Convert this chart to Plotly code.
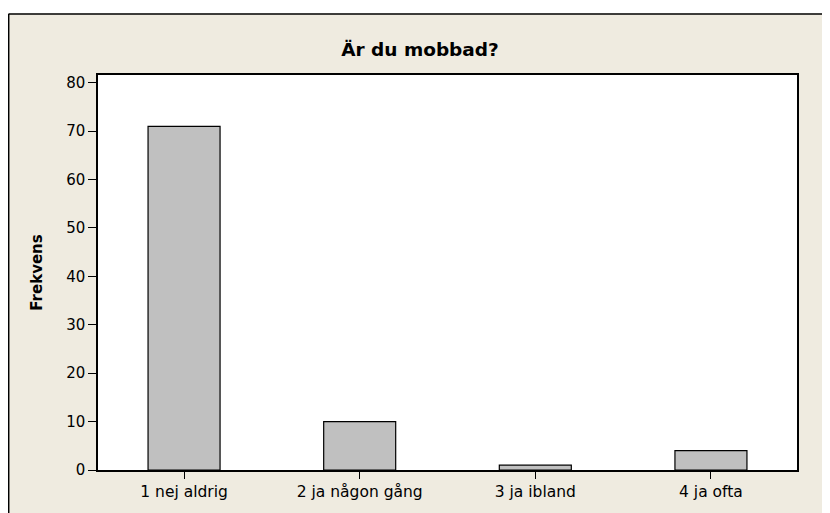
import plotly.graph_objects as go

categories = ['1 nej aldrig', '2 ja någon gång', '3 ja ibland', '4 ja ofta']
frekvens = [71, 10, 1, 4]

# the page body adds an 8px margin, so work in page pixels minus 8
OFF = 8
W, H = 830 - OFF, 513 - OFF
L, R, T, B = 98 - OFF, 830 - 797, 75 - OFF, 513 - 473
pw, ph = W - L - R, H - T - B

def px(x):
    return (x - OFF - L) / pw

def py(y):
    return (H - B - (y - OFF)) / ph

fig = go.Figure()
fig.add_trace(go.Bar(x=categories, y=frekvens, width=0.41,
                     marker=dict(color='#c0c0c0', line=dict(color='black', width=1.2))))

bg = '#efebe0'
fig.update_layout(
    width=W, height=H,
    margin=dict(l=L, r=R, t=T, b=B),
    paper_bgcolor=bg, plot_bgcolor='white',
    font=dict(family='DejaVu Sans', size=14, color='black'),
    title=dict(text='<b>Är du mobbad?</b>', x=(420 - OFF) / W, xanchor='center',
               y=1 - (50 - OFF) / H, yanchor='middle', font=dict(size=18.5)),
    showlegend=False,
    shapes=[
        dict(type='rect', xref='paper', yref='paper', x0=px(0), x1=px(840),
             y0=py(13), y1=py(0), fillcolor='white', line=dict(width=0), layer='below'),
        dict(type='line', xref='paper', yref='paper', x0=px(8.5), x1=px(840),
             y0=py(13.5), y1=py(13.5), line=dict(color='black', width=1.5)),
        dict(type='line', xref='paper', yref='paper', x0=px(8.7), x1=px(8.7),
             y0=py(13.5), y1=py(520), line=dict(color='black', width=1.5)),
    ],
)
fig.update_xaxes(range=[-0.49, 3.49], showline=True, mirror=True, linecolor='black',
                 linewidth=1.5, ticks='outside', ticklen=7, tickcolor='black',
                 showgrid=False, tickfont=dict(size=15.5))
fig.update_yaxes(range=[0, 81.6], tickvals=[0, 10, 20, 30, 40, 50, 60, 70, 80],
                 showline=True, mirror=True, linecolor='black', linewidth=1.5,
                 ticks='outside', ticklen=8, tickcolor='black', showgrid=False,
                 zeroline=False, tickfont=dict(size=15),
                 title=dict(text='<b>Frekvens</b>', font=dict(size=15), standoff=20))
fig.write_html('out.html')
